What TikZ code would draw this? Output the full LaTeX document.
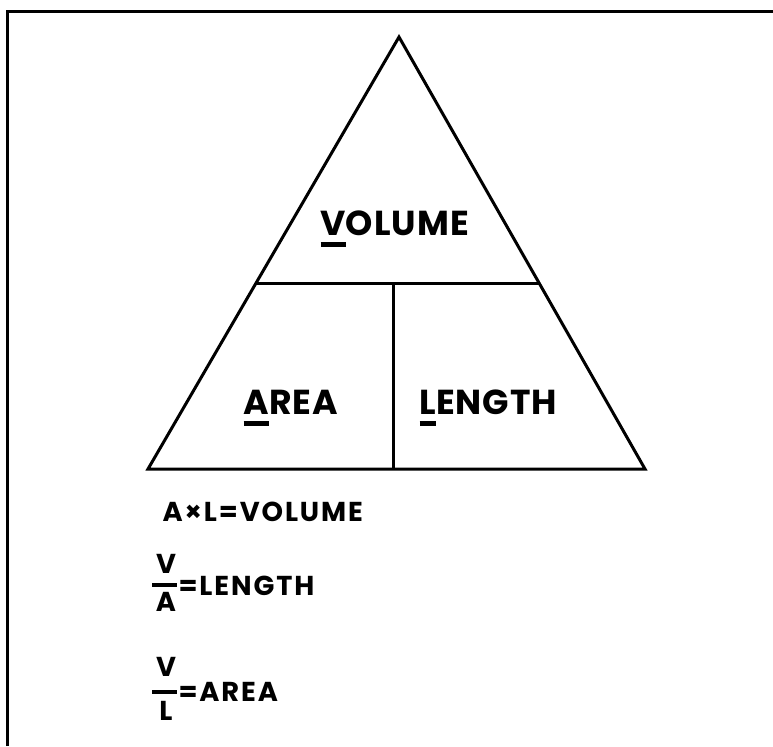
\documentclass[tikz,border=0pt]{standalone}
\usepackage{fontspec}
\setmainfont{Poppins}
\newcommand\firstul[1]{\setbox0\hbox{#1}\rlap{\rule[-9pt]{\wd0}{3.5pt}}\box0}
\begin{document}
\begin{tikzpicture}[x=0.75pt,y=-0.75pt,line width=2.25pt,
  big/.style={font=\fontsize{26}{30}\selectfont\bfseries\addfontfeatures{LetterSpace=3}, inner sep=0pt, anchor=base west},
  small/.style={font=\fontsize{20.5}{24}\selectfont\bfseries\addfontfeatures{LetterSpace=7}, inner sep=0pt},
  fbar/.style={line width=3.5pt}]
\useasboundingbox (0,0) rectangle (773,746);
\coordinate (bl0) at (7,746);
\coordinate (tl0) at (7,11);
\coordinate (tr0) at (773,11);
\draw (bl0) -- (tl0) -- (tr0);
\coordinate (apex) at (399,37);
\coordinate (bl) at (148,469);
\coordinate (br) at (645,469);
\coordinate (ml) at (256,283);
\coordinate (mr) at (539,283);
\coordinate (vt) at (393,283);
\coordinate (vb) at (393,469);
\draw[line join=miter] (bl) -- (apex) -- (br) -- cycle;
\draw (ml) -- (mr);
\draw (vt) -- (vb);
\node[big] (vol) at (319,235) {\firstul{V}OLUME};
\node[big] (area) at (242,414) {\firstul{A}REA};
\node[big] (len) at (418,414) {\firstul{L}ENGTH};
\node[small, anchor=base west] (f1) at (161,521) {A×L=VOLUME};
\node[small, anchor=base] (v1) at (166,573) {V};
\coordinate (b1l) at (152,585);
\coordinate (b1r) at (177,585);
\draw[fbar] (b1l) -- (b1r);
\node[small, anchor=base] (a1) at (166,611) {A};
\node[small, anchor=base west] (e1) at (177,595) {=LENGTH};
\node[small, anchor=base] (v2) at (166,676) {V};
\coordinate (b2l) at (152,692);
\coordinate (b2r) at (177,692);
\draw[fbar] (b2l) -- (b2r);
\node[small, anchor=base] (l2) at (166,720) {L};
\node[small, anchor=base west] (e2) at (177,701) {=AREA};
\end{tikzpicture}
\end{document}
